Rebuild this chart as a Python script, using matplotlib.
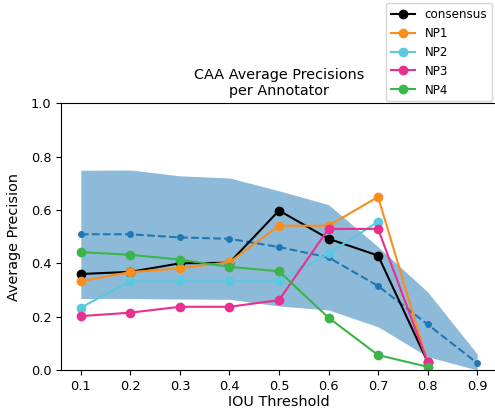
import numpy as np
import matplotlib
matplotlib.use("Agg")
import matplotlib.pyplot as plt

thresholds = [0.1, 0.2, 0.3, 0.4, 0.5, 0.6, 0.7, 0.8, 0.9]
band_upper = [0.749, 0.75, 0.728, 0.72, 0.672, 0.62, 0.462, 0.293, 0.06]
band_lower = [0.268, 0.268, 0.266, 0.265, 0.24, 0.225, 0.162, 0.05, 0.0]
mean_ap = [0.509, 0.509, 0.497, 0.492, 0.461, 0.422, 0.315, 0.171, 0.026]

series_thr = [0.1, 0.2, 0.3, 0.4, 0.5, 0.6, 0.7, 0.8]
consensus = [0.36, 0.368, 0.40, 0.402, 0.598, 0.492, 0.429, 0.03]
np1 = [0.333, 0.367, 0.381, 0.404, 0.541, 0.541, 0.649, 0.028]
np2_thr = [0.1, 0.2, 0.3, 0.4, 0.5, 0.6, 0.7]
np2 = [0.234, 0.333, 0.333, 0.333, 0.333, 0.437, 0.556]
np3 = [0.202, 0.215, 0.237, 0.237, 0.262, 0.529, 0.529, 0.03]
np4 = [0.442, 0.432, 0.414, 0.387, 0.37, 0.196, 0.056, 0.012]

fig = plt.figure(figsize=(4.95, 4.12), dpi=100)
ax = fig.add_axes([61/495, 42/412, (497-61)/495, (370-103.3)/412])

ax.fill_between(thresholds, band_lower, band_upper, color='tab:blue', alpha=0.5, linewidth=0)
ax.plot(thresholds, mean_ap, '--', color='tab:blue', marker='o', markersize=4)

ax.plot(series_thr, consensus, '-o', color='black', label='consensus')
ax.plot(series_thr, np1, '-o', color='#f98e1d', label='NP1')
ax.plot(np2_thr, np2, '-o', color='#5cc8e0', label='NP2')
ax.plot(series_thr, np3, '-o', color='#e8308e', label='NP3')
ax.plot(series_thr, np4, '-o', color='#3bb44a', label='NP4')

ax.set_xlim(0.06, 0.94)
ax.set_ylim(0.0, 1.0)
ax.set_xticks(thresholds)
ax.tick_params(labelsize=9.3)
ax.set_xlabel('IOU Threshold', fontsize=10.4, labelpad=2)
ax.set_ylabel('Average Precision', fontsize=10.4, labelpad=7)
ax.set_title('CAA Average Precisions\nper Annotator', fontsize=10.4)

fig.legend(loc='upper right', bbox_to_anchor=(498/495, 1 + 3/412), fontsize=8.6)

fig.savefig('out.png', dpi=100)
